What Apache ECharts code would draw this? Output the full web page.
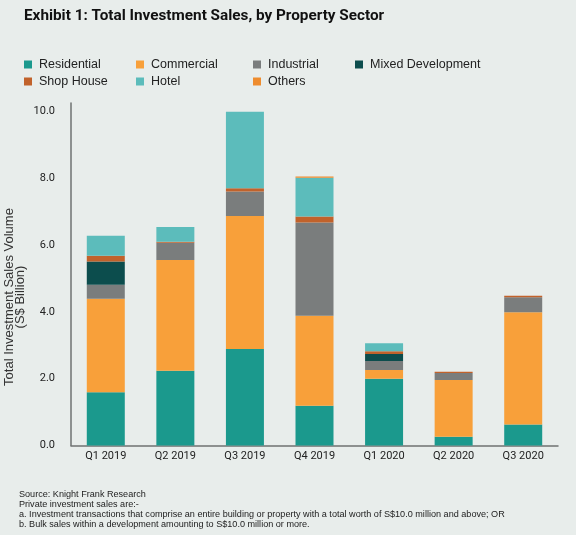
<!DOCTYPE html>
<html>
<head>
<meta charset="utf-8">
<script src="https://cdn.jsdelivr.net/npm/echarts@6/dist/echarts.min.js"></script>
<style>
html,body{margin:0;padding:0;background:#e8edeb;}
#chart{width:576px;height:535px;}
</style>
</head>
<body>
<div id="chart"></div>
<script>
const categories = ['Q1 2019','Q2 2019','Q3 2019','Q4 2019','Q1 2020','Q2 2020','Q3 2020'];
const residential = [1.59, 2.24, 2.89, 1.19, 2.00, 0.26, 0.63];
const commercial  = [2.80, 3.31, 3.98, 2.69, 0.26, 1.70, 3.36];
const industrial  = [0.42, 0.52, 0.73, 2.79, 0.27, 0.21, 0.45];
const mixedDev    = [0.70, 0, 0, 0, 0.21, 0, 0];
const shopHouse   = [0.17, 0.03, 0.10, 0.18, 0.08, 0.04, 0.04];
const hotel       = [0.60, 0.44, 2.29, 1.16, 0.24, 0, 0];
const others      = [0, 0, 0, 0.04, 0, 0, 0];
const yTicks = [0, 2, 4, 6, 8, 10];

const seriesDefs = [
  ['Residential', residential, '#1b998d'],
  ['Commercial', commercial, '#f8a03a'],
  ['Industrial', industrial, '#7a7d7d'],
  ['Mixed Development', mixedDev, '#0c4d4d'],
  ['Shop House', shopHouse, '#c1622b'],
  ['Hotel', hotel, '#5cbcbb'],
  ['Others', others, '#ee8c2e']
];

const legendPos = {
  'Residential': [24, 58], 'Commercial': [136, 58], 'Industrial': [253, 58], 'Mixed Development': [355, 58],
  'Shop House': [24, 75], 'Hotel': [136, 75], 'Others': [253, 75]
};

const chart = echarts.init(document.getElementById('chart'));
const legends = seriesDefs.map(d => ({
  data: [d[0]],
  left: legendPos[d[0]][0],
  top: legendPos[d[0]][1],
  padding: 0,
  itemWidth: 8,
  itemHeight: 8,
  icon: 'rect',
  selectedMode: true,
  textStyle: { fontFamily: 'Liberation Sans', fontSize: 12.5, color: '#222', padding: [0,0,0,2] }
}));

chart.setOption({
  backgroundColor: '#e8edeb',
  animation: false,
  title: {
    text: 'Exhibit 1: Total Investment Sales, by Property Sector',
    left: 19, top: 4,
    textStyle: { fontFamily: 'Roboto', fontWeight: 'bold', fontSize: 15.3, color: '#111' }
  },
  legend: legends,
  grid: { left: 71, right: 18, top: 103, bottom: 89.5 },
  xAxis: {
    type: 'category',
    data: categories,
    axisLine: { lineStyle: { color: '#6f7272', width: 1.5 } },
    axisTick: { show: false },
    axisLabel: { margin: 5, fontFamily: 'Roboto', fontSize: 11, color: '#222' }
  },
  yAxis: {
    type: 'value',
    min: 0, max: 10.25, interval: 2,
    axisLine: { show: true, lineStyle: { color: '#6f7272', width: 1.5 } },
    axisTick: { show: false },
    splitLine: { show: false },
    axisLabel: {
      showMaxLabel: false,
      margin: 16,
      fontFamily: 'Roboto', fontSize: 11, color: '#222',
      padding: [0,0,6,0],
      formatter: v => yTicks.includes(v) ? v.toFixed(1) : ''
    }
  },
  graphic: [
    {
      type: 'text', x: 15, y: 297, rotation: Math.PI / 2,
      style: {
        text: 'Total Investment Sales Volume\n(S$ Billion)',
        fontFamily: 'Liberation Sans', fontSize: 13, lineHeight: 11, fill: '#333',
        align: 'center', verticalAlign: 'middle'
      }
    },
    {
      type: 'text', left: 19, top: 489.5,
      style: {
        text: 'Source: Knight Frank Research\nPrivate investment sales are:-\na. Investment transactions that comprise an entire building or property with a total worth of S$10.0 million and above; OR\nb. Bulk sales within a development amounting to S$10.0 million or more.',
        fontFamily: 'Liberation Sans', fontSize: 9.1, lineHeight: 9.9, fill: '#222'
      }
    }
  ],
  series: seriesDefs.map(d => ({
    name: d[0],
    type: 'bar',
    stack: 'total',
    barWidth: 38,
    data: d[1],
    itemStyle: { color: d[2] }
  }))
});
</script>
</body>
</html>
